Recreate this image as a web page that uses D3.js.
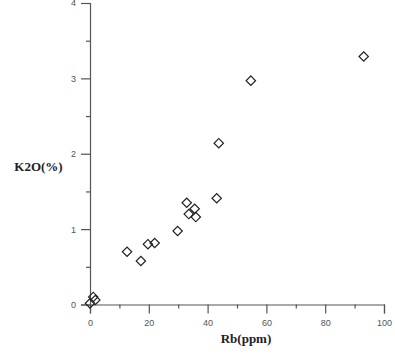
<!DOCTYPE html>
<html>
<head>
<meta charset="utf-8">
<script src="https://cdn.jsdelivr.net/npm/d3@7"></script>
<style>
  body { margin: 0; background: #fff; }
</style>
</head>
<body>
<div id="chart"></div>
<script>
const width = 395, height = 360;

// Rb (ppm) vs K2O (%)
const rb  = [93.1, 54.7, 43.8, 43.1, 32.9, 35.6, 33.6, 36.0, 29.8, 22.0, 19.7, 12.6, 17.3, 1.1, 1.8, 0.0];
const k2o = [3.29, 2.97, 2.14, 1.41, 1.35, 1.27, 1.20, 1.16, 0.975, 0.816, 0.80, 0.70, 0.577, 0.10, 0.06, 0.015];

const xTicks = [0, 20, 40, 60, 80, 100];
const xMinor = [10, 30, 50, 70, 90];
const yTicks = [0, 1, 2, 3, 4];
const yMinor = [0.5, 1.5, 2.5, 3.5];

const x = d3.scaleLinear().domain([0, 100]).range([90, 384]);
const y = d3.scaleLinear().domain([0, 4]).range([304.5, 3]);

const svg = d3.select('#chart')
  .append('svg')
  .attr('width', width)
  .attr('height', height);

const axisColor = '#555';

// x axis
const gx = svg.append('g')
  .attr('transform', `translate(0,${y(0)})`)
  .call(d3.axisBottom(x).tickValues(xTicks).tickSize(9).tickPadding(6).tickFormat(d3.format('d')));
gx.append('g')
  .call(d3.axisBottom(x).tickValues(xMinor).tickSize(4).tickFormat(''))
  .select('.domain').remove();

// y axis
const gy = svg.append('g')
  .attr('transform', `translate(${x(0)},0)`)
  .call(d3.axisLeft(y).tickValues(yTicks).tickSize(9).tickPadding(5).tickFormat(d3.format('d')));
gy.append('g')
  .call(d3.axisLeft(y).tickValues(yMinor).tickSize(4).tickFormat(''))
  .select('.domain').remove();

svg.selectAll('.domain').attr('stroke', axisColor).attr('stroke-width', 1.2);
svg.selectAll('.tick line').attr('stroke', axisColor).attr('stroke-width', 1.2);
svg.selectAll('.tick text')
  .attr('fill', '#555')
  .style('font-family', '"Liberation Sans", Arial, sans-serif')
  .style('font-size', '9px');

// axis titles
svg.append('text')
  .attr('x', 246)
  .attr('y', 343)
  .attr('text-anchor', 'middle')
  .style('font-family', '"Liberation Serif", "Times New Roman", serif')
  .style('font-weight', 'bold')
  .style('font-size', '13px')
  .attr('fill', '#222')
  .text('Rb(ppm)');

svg.append('text')
  .attr('x', 38.5)
  .attr('y', 171)
  .attr('text-anchor', 'middle')
  .style('font-family', '"Liberation Serif", "Times New Roman", serif')
  .style('font-weight', 'bold')
  .style('font-size', '13px')
  .attr('fill', '#222')
  .text('K2O(%)');

// diamonds
const pts = rb.map((v, i) => ({ x: v, y: k2o[i] }));
const diamond = d3.symbol().type(d3.symbolSquare).size(44);
svg.selectAll('path.pt')
  .data(pts)
  .enter()
  .append('path')
  .classed('pt', true)
  .attr('d', diamond)
  .attr('transform', d => `translate(${x(d.x)},${y(d.y)}) rotate(45)`)
  .attr('fill', 'none')
  .attr('stroke', '#222')
  .attr('stroke-width', 1.2);
</script>
</body>
</html>
